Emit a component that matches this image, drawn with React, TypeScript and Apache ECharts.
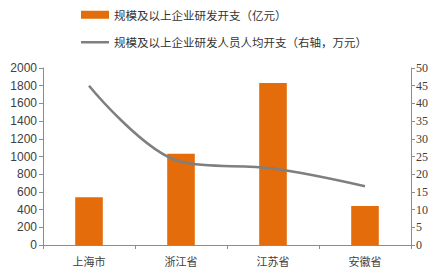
import React, { useEffect, useRef } from "react";
import * as echarts from "echarts";

const categories = ["上海市", "浙江省", "江苏省", "安徽省"];
const rdSpending = [540, 1030, 1830, 440];
const perCapita = [45, 23.5, 21.6, 16.6];
const barName = "规模及以上企业研发开支（亿元）";
const lineName = "规模及以上企业研发人员人均开支（右轴，万元）";

export default function App() {
  const ref = useRef<HTMLDivElement>(null);
  useEffect(() => {
    const chart = echarts.init(ref.current!, null, { renderer: "svg" });
    const axisColor = "#8c8c8c";
    const labelColor = "#404040";
    chart.setOption({
      animation: false,
      backgroundColor: "#ffffff",
      legend: {
        orient: "vertical",
        left: 81,
        top: 9,
        padding: 0,
        itemWidth: 28,
        itemHeight: 8,
        itemGap: 16,
        textStyle: { fontSize: 11.5, color: "#333", fontFamily: "Noto Sans CJK SC" },
        data: [
          { name: barName, icon: "rect" },
          { name: lineName, icon: "path://M0,0 L28,0 L28,2.5 L0,2.5 Z", itemStyle: { color: "#7f7f7f" } },
        ],
      },
      grid: { left: 43, right: 20, top: 68, bottom: 32 },
      xAxis: {
        type: "category",
        data: categories,
        axisLine: { lineStyle: { color: axisColor } },
        axisTick: { show: true, alignWithLabel: false, length: 4, lineStyle: { color: axisColor } },
        axisLabel: { fontSize: 11, color: labelColor, fontFamily: "Noto Sans CJK SC", margin: 10 },
      },
      yAxis: [
        {
          type: "value",
          min: 0,
          max: 2000,
          interval: 200,
          splitLine: { show: false },
          axisLine: { show: true, lineStyle: { color: axisColor } },
          axisTick: { show: true, length: 4, lineStyle: { color: axisColor } },
          axisLabel: {
            fontSize: 12,
            color: labelColor,
            fontFamily: "Liberation Sans",
            margin: 6,
            formatter: (v: number) => String(v),
          },
        },
        {
          type: "value",
          min: 0,
          max: 50,
          interval: 5,
          position: "right",
          splitLine: { show: false },
          axisLine: { show: true, lineStyle: { color: axisColor } },
          axisTick: { show: true, length: 4, lineStyle: { color: axisColor } },
          axisLabel: {
            fontSize: 12,
            color: labelColor,
            fontFamily: "Liberation Sans Narrow",
            margin: 5,
            formatter: (v: number) => String(v),
          },
        },
      ],
      series: [
        {
          name: barName,
          type: "bar",
          data: rdSpending,
          barWidth: "30%",
          itemStyle: { color: "#E46C0A" },
        },
        {
          name: lineName,
          type: "line",
          yAxisIndex: 1,
          data: perCapita,
          smooth: 0.35,
          symbol: "none",
          lineStyle: { color: "#7f7f7f", width: 2.5 },
          itemStyle: { color: "#7f7f7f" },
        },
      ],
    });
    return () => chart.dispose();
  }, []);
  return <div ref={ref} style={{ width: 431, height: 277, position: "absolute", left: 0, top: 0 }} />;
}
